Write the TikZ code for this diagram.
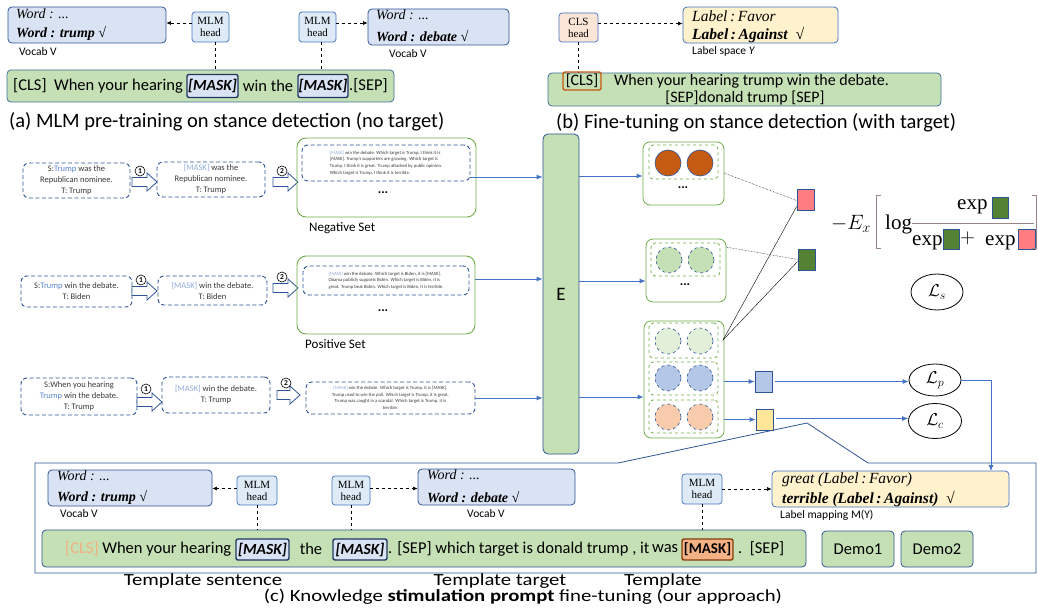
\documentclass[tikz,border=0pt]{standalone}
\usepackage{fontspec}
\setmainfont{Carlito}
\newfontfamily\cambria{Liberation Serif}
\usetikzlibrary{arrows.meta,shapes.geometric,calc}
\definecolor{bdr}{HTML}{2F5597}
\definecolor{bmid}{HTML}{4472C4}
\definecolor{sentd}{HTML}{41719C}
\definecolor{vocabf}{HTML}{DAE3F3}
\definecolor{headf}{HTML}{DEEBF7}
\definecolor{sentf}{HTML}{C5E0B4}
\definecolor{labf}{HTML}{FFF2CC}
\definecolor{clsf}{HTML}{FBE5D6}
\definecolor{grn}{HTML}{70AD47}
\definecolor{orng}{HTML}{C55A11}
\definecolor{palegrn}{HTML}{E2F0D9}
\definecolor{lblue}{HTML}{B4C7E7}
\definecolor{peach}{HTML}{F8CBAD}
\definecolor{redsq}{HTML}{FF7C80}
\definecolor{grnsq}{HTML}{548235}
\definecolor{ylw}{HTML}{FFE699}
\definecolor{maskt}{HTML}{8FAADC}
\definecolor{trumpc}{HTML}{5B87D0}
\definecolor{txt}{HTML}{3A3A3A}
\definecolor{brk}{HTML}{9C8585}
\definecolor{mask3f}{HTML}{F4B183}
\definecolor{mask3d}{HTML}{843C0C}
\definecolor{maskd}{HTML}{1F3864}
\definecolor{clsc}{HTML}{F4B183}
\newcommand\fsz[2]{\fontsize{#1}{#2}\selectfont}
\newcommand\wide[1]{\scalebox{1.22}[1]{#1}}
\newcommand\blkarrow[3]{\draw[blockarr] (#1,#2) ++(0,-4.5) -- ++(#3-10,0) -- ++(0,-4.5) -- ++(10,9) -- ++(-10,9) -- ++(0,-4.5) -- ++(10-#3,0) -- cycle;}
\begin{document}
\begin{tikzpicture}[x=1pt,y=-1pt,
  sz/.style 2 args={minimum width=#1, minimum height=#2},
  box/.style={rounded corners=4pt, line width=0.8pt, inner sep=0pt},
  vocab/.style={box, draw=bdr, fill=vocabf},
  head/.style={rounded corners=3pt, draw=bmid, fill=headf, line width=0.7pt, align=center, font=\cambria\fsz{11}{12}, inner sep=0pt},
  sent/.style={box, draw=sentd, fill=sentf},
  maskb/.style={rounded corners=2pt, draw=maskd, line width=1.4pt, fill=vocabf, font=\bfseries\itshape\fsz{15.5}{15.5}, inner sep=0pt},
  mtxt/.style={inner sep=1pt, font=\cambria\itshape\fsz{14}{14}},
  mbold/.style={inner sep=1pt, font=\cambria\bfseries\itshape\fsz{14}{14}},
  ltxt/.style={inner sep=1pt, font=\cambria\itshape\fsz{15.5}{15.5}},
  lbold/.style={inner sep=1pt, font=\cambria\bfseries\itshape\fsz{15.5}{15.5}},
  small/.style={inner sep=1pt, font=\fsz{11.5}{11.5}},
  sentfont/.style={inner sep=1pt, font=\fsz{16.5}{19}},
  capfont/.style={inner sep=1pt, font=\fsz{20.5}{20.5}},
  capc/.style={inner sep=1pt, font=\fsz{17}{17}, anchor=base},
  dasharr/.style={dashed, line width=0.6pt, -{Latex[length=4.5pt,width=4pt]}},
  dashln/.style={dashed, line width=0.6pt},
  dbox/.style={draw=bdr, dash pattern=on 4pt off 2.5pt, rounded corners=6pt, line width=0.9pt, align=center, font=\fsz{8.5}{11}, text=txt, inner sep=0pt},
  setbox/.style={draw=grn, rounded corners=9pt, line width=0.9pt, inner sep=0pt},
  ibox/.style={draw=bdr, dash pattern=on 4pt off 2.5pt, rounded corners=6pt, line width=0.9pt, font=\fsz{4.7}{6.6}, text=txt, inner sep=0pt},
  blockarr/.style={draw=bdr, fill=white, line width=0.8pt},
  circnum/.style={circle, draw=black, line width=0.6pt, minimum size=10pt, inner sep=0pt, font=\fsz{7.5}{7.5}\bfseries},
  barrow/.style={draw=bmid, line width=0.8pt, -{Latex[length=6pt,width=5pt]}},
  gbox/.style={draw=grn, rounded corners=7pt, line width=0.8pt, inner sep=0pt},
  gin/.style={draw=grn, dashed, rounded corners=4pt, line width=0.8pt, inner sep=0pt},
  dot/.style={circle, minimum size=26pt, inner sep=0pt, draw=bdr, line width=0.6pt},
  ddot/.style={dot, dashed},
  sq/.style={draw=bdr, line width=0.8pt, inner sep=0pt, sz={17}{21}},
  loss/.style={ellipse, draw=black, line width=0.8pt, inner sep=0pt, font=\fsz{18}{18}},
  fml/.style={inner sep=0pt, font=\cambria\fsz{21}{21}},
  dots/.style={inner sep=0pt, font=\fsz{13}{13}\bfseries}
]
\fill[white] (0,0) rectangle (1038,615);
\useasboundingbox (0,0) rectangle (1038,615);

% ===== (a) =====
\node[vocab, sz={158}{36}] (vA1) at (87,25) {};
\node[anchor=west, mtxt] (vA1t) at (15,14) {Word : ...};
\node[anchor=west, mbold] (vA1b) at (15,33) {Word : trump √};
\node[anchor=west, small] (vA1l) at (18,52) {Vocab V};
\node[head, sz={37}{30}] (hA1) at (210.5,27) {MLM\\head};
\node[head, sz={37}{30}] (hA2) at (317.5,27) {MLM\\head};
\node[vocab, sz={141}{36}] (vA2) at (438.5,27) {};
\node[anchor=west, mtxt] (vA2t) at (375,15) {Word : ...};
\node[anchor=west, mbold] (vA2b) at (375,36) {Word : debate √};
\node[anchor=west, small] (vA2l) at (388,54) {Vocab V};
\node[sent, sz={387}{32}] (sA) at (200.5,86) {};
\node[anchor=west, sentfont] (sAt1) at (12,86) {[CLS]\ \ When your hearing};
\node[maskb, sz={51}{23}] (mA1) at (212.5,86) {[MASK]};
\node[sentfont] (sAt2) at (268,86) {win the};
\node[maskb, sz={50}{23}] (mA2) at (323,86) {[MASK]};
\node[anchor=west, sentfont] (sAt3) at (348,86) {.[SEP]};
\draw[dasharr] ([yshift=4pt]hA1.west) -- ([yshift=4pt]hA1.west -| vA1.east);
\draw[dasharr] ([yshift=4pt]hA2.east) -- ([yshift=4pt]hA2.east -| vA2.west);
\draw[dashln] ([xshift=5pt]hA1.south) -- ([xshift=5pt]hA1.south |- sA.north);
\draw[dashln] ([xshift=4pt]hA2.south) -- ([xshift=4pt]hA2.south |- sA.north);
\node[anchor=west, capfont] (capA) at (8,122) {(a) MLM pre-training on stance detection (no target)};

% ===== (b) =====
\node[head, fill=clsf, sz={39}{29}] (hB) at (578.5,27.5) {CLS\\head};
\node[box, draw=bmid, fill=labf, sz={155}{36}] (lB) at (760.5,25) {};
\node[anchor=west, ltxt] (lBt) at (691,16) {Label\,:\,Favor};
\node[anchor=west, lbold] (lBb) at (691,35) {Label\,:\,Against\ \ √};
\node[anchor=west, small] (lBl) at (691,51) {Label space \textit{Y}};
\draw[dasharr] ([yshift=4pt]hB.east) -- ([yshift=4pt]hB.east -| lB.west);
\node[sent, sz={393}{33}] (sB) at (744.5,89.5) {};
\draw[dashln] (hB.south) -- (hB.south |- sB.north);
\node[rounded corners=2pt, draw=orng, line width=1.4pt, sz={38}{18}, inner sep=0pt, font=\fsz{16}{16}] (cB) at (582,81) {[CLS]};
\node[anchor=west, sentfont, font=\fsz{16}{19}] (sBt1) at (613,81) {When your hearing trump win the debate.};
\node[sentfont, font=\fsz{16}{19}] (sBt2) at (745,98) {[SEP]donald trump [SEP]};
\node[anchor=west, capfont] (capB) at (555,123) {(b) Fine-tuning on stance detection (with target)};

% ===== E =====
\node[box, draw=bdr, fill=sentf, sz={36}{320}, rounded corners=5pt, font=\fsz{19}{19}] (E) at (561,294) {E};

% ===== row 1 =====
\node[dbox, sz={107}{35}] (r1a) at (76.5,180.5) {S:\textcolor{trumpc}{Trump} was the\\Republican nominee.\\T: Trump};
\node[dbox, sz={108}{35}] (r1b) at (211,179.5) {\textcolor{maskt}{[MASK]} was the\\Republican nominee.\\T: Trump};
\blkarrow{132}{182}{25}
\node[circnum] (c11) at (140,171) {1};
\blkarrow{273}{182}{25}
\node[circnum] (c12) at (282,171) {2};
\node[setbox, sz={179}{79}] (neg) at (386.5,177.5) {};
\node[ibox, sz={168}{36}, align=left] (negi) at (386,163) {\textcolor{maskt}{[MASK]} win the debate. Which target is Trump, I think it is\\{}[MASK]. Trump's supporters are growing. Which target is\\Trump, I think it is great. Trump attacked by public opinion.\\Which target is Trump, I think it is terrible.};
\node[dots] (negd) at (383,193) {...};
\node[anchor=west, inner sep=1pt, font=\fsz{13}{13}] (negl) at (308,228) {Negative Set};
\coordinate (a1) at (470,177);
\draw[barrow] (a1) -- (a1 -| E.west);

% ===== row 2 =====
\node[dbox, sz={111}{31}] (r2a) at (76.5,291.5) {S:\textcolor{trumpc}{Trump} win the debate.\\T: Biden};
\node[dbox, sz={109}{29}] (r2b) at (212.5,290.5) {\textcolor{maskt}{[MASK]} win the debate.\\T: Biden};
\blkarrow{132}{291}{25}
\node[circnum] (c21) at (141,280) {1};
\blkarrow{273}{288}{25}
\node[circnum] (c22) at (282,277) {2};
\node[setbox, sz={178}{78}] (pos) at (386,295) {};
\node[ibox, sz={166}{29}, align=left] (posi) at (386,280.5) {\textcolor{maskt}{[MASK]} win the debate. Which target is Biden, it is [MASK].\\Obama publicly supports Biden. Which target is Biden, it is\\great. Trump beat Biden. Which target is Biden, it is terrible.};
\node[dots] (posd) at (383,311) {...};
\node[anchor=west, inner sep=1pt, font=\fsz{13}{13}] (posl) at (304,344) {Positive Set};
\coordinate (a2) at (475,279);
\draw[barrow] (a2) -- (a2 -| E.west);

% ===== row 3 =====
\node[dbox, sz={116}{37}] (r3a) at (79,396.5) {S:When you hearing\\\textcolor{trumpc}{Trump} win the debate.\\T: Trump};
\node[dbox, sz={108}{36}] (r3b) at (216,395) {\textcolor{maskt}{[MASK]} win the debate.\\T: Trump};
\blkarrow{137}{402}{25}
\node[circnum] (c31) at (146,389) {1};
\blkarrow{277}{395}{23}
\node[circnum] (c32) at (286,383) {2};
\node[ibox, sz={169}{32}, align=center] (r3c) at (390.5,398) {\textcolor{maskt}{[MASK]} win the debate. Which target is Trump, it is [MASK].\\Trump used to win the poll. Which target is Trump, it is great.\\Trump was caught in a scandal. Which target is Trump, it is\\terrible.};
\coordinate (a3) at (475,398);
\draw[barrow] (a3) -- (a3 -| E.west);

% ===== groups =====
\node[gbox, sz={81}{63}] (G1) at (683.5,173.5) {};
\node[gin, sz={69}{34}] (G1i) at (683.5,162) {};
\node[dot, fill=orng] (g1a) at (668,163) {};
\node[dot, fill=orng] (g1b) at (700,163) {};
\node[dots] (g1d) at (683,188) {...};
\node[gbox, sz={80}{63}] (G2) at (686,270.5) {};
\node[gin, sz={69}{33}] (G2i) at (685.5,259.5) {};
\node[ddot, fill=sentf] (g2a) at (669,260) {};
\node[ddot, fill=sentf] (g2b) at (701,260) {};
\node[dots] (g2d) at (685,285) {...};
\node[gbox, sz={80}{117}] (G3) at (684,379.5) {};
\node[gin, sz={69}{35}] (G3a) at (683.5,340.5) {};
\node[gin, sz={69}{33}] (G3b) at (683.5,378.5) {};
\node[gin, sz={69}{33}] (G3c) at (683.5,416.5) {};
\node[ddot, fill=palegrn] (g3a1) at (668,341) {};
\node[ddot, fill=palegrn] (g3a2) at (700,341) {};
\node[ddot, fill=lblue] (g3b1) at (668,378) {};
\node[ddot, fill=lblue] (g3b2) at (700,378) {};
\node[ddot, fill=peach] (g3c1) at (668,417) {};
\node[ddot, fill=peach] (g3c2) at (700,417) {};
\draw[barrow] (E.east |- 0,176) -- (G1.west |- 0,176);
\draw[barrow] (E.east |- 0,281) -- (G2.west |- 0,281);
\draw[barrow] (E.east |- 0,397) -- (G3.west |- 0,397);

% ===== callout outline =====
\draw[draw=bdr, line width=0.8pt] (35,463) -- (618,463) -- (807,423) -- (868,463) -- (1036,463) -- (1036,573) -- (35,573) -- cycle;

% ===== squares =====
\node[sq, fill=redsq] (sqR) at (805.5,199.5) {};
\node[sq, fill=grnsq] (sqG) at (806.5,259.5) {};
\node[sq, fill=lblue] (sqB) at (763.5,381.5) {};
\node[sq, fill=ylw] (sqY) at (764.5,419.5) {};
\coordinate (t1) at (724,173);
\coordinate (t2) at (726,247);
\coordinate (t3) at (723,340);
\draw[densely dotted, line width=0.5pt] (t1) -- ([yshift=-1pt]sqR.west);
\draw[densely dotted, line width=0.5pt] (t2) -- (sqG.west);
\draw[line width=0.4pt] (t3) -- ([yshift=-7pt]sqR.west);
\draw[line width=0.4pt] (t3) -- ([yshift=-2pt]sqG.west);
\draw[barrow] (G3.east |- sqB) -- (sqB.west);
\draw[barrow] (G3.east |- sqY) -- (sqY.west);

% ===== losses =====
\node[loss, sz={52}{32}] (Lp) at (935,380) {$\mathcal{L}_p$};
\node[loss, sz={53}{35}] (Lc) at (935,421) {$\mathcal{L}_c$};
\node[loss, sz={52}{36}] (Ls) at (937,292) {$\mathcal{L}_s$};
\draw[barrow] ([xshift=3pt]sqB.east) -- (sqB.east -| Lp.west);
\draw[barrow] ([xshift=3pt,yshift=1pt]sqY.east) -- ([yshift=1pt]sqY.east -| Lc.west);

% ===== formula =====
\node[fml, anchor=base west] (fE) at (831,229) {$-E_x$};
\draw[brk, line width=1pt] (881,195) -- (876,195) -- (876,248) -- (881,248);
\node[fml, anchor=base west] (flog) at (885,229) {log};
\draw[brk, line width=0.9pt] (912,223) -- (1034,223);
\node[fml, anchor=base west] (fn) at (957,209) {exp};
\node[sq, fill=grnsq, sz={16}{21}] (fsq1) at (1000,207.5) {};
\node[fml, anchor=base west] (fd1) at (912,245) {exp};
\node[sq, fill=grnsq, sz={16}{20}] (fsq2) at (951,239) {};
\node[fml] (fplus) at (967.5,238) {$+$};
\node[fml, anchor=base west] (fd2) at (985,245) {exp};
\node[sq, fill=redsq, sz={17}{20}] (fsq3) at (1026.5,239) {};
\draw[brk, line width=1pt] (1032,195) -- (1036.5,195) -- (1036.5,248) -- (1032,248);

% ===== (c) =====
\node[vocab, sz={164}{36}] (vC1) at (130,488) {};
\node[anchor=west, mtxt] (vC1t) at (56,476) {Word : ...};
\node[anchor=west, mbold] (vC1b) at (56,497) {Word : trump √};
\node[anchor=west, small] (vC1l) at (59,514) {Vocab V};
\node[head, sz={40}{29}] (hC1) at (257,490.5) {MLM\\head};
\node[head, sz={38}{29}] (hC2) at (351,490.5) {MLM\\head};
\node[vocab, sz={157}{36}] (vC2) at (496.5,487) {};
\node[anchor=west, mtxt] (vC2t) at (426,475) {Word : ...};
\node[anchor=west, mbold] (vC2b) at (426,497) {Word : debate √};
\node[anchor=west, small] (vC2l) at (466,514) {Vocab V};
\node[head, sz={40}{30}] (hC3) at (702,489) {MLM\\head};
\node[box, draw=bmid, fill=labf, sz={237}{36}] (lC) at (890.5,489) {};
\node[anchor=west, ltxt] (lCt) at (781,480) {great (Label\,:\,Favor)};
\node[anchor=west, lbold] (lCb) at (781,499) {terrible (Label\,:\,Against)\ \ √};
\node[anchor=west, small] (lCl) at (779,515) {Label mapping M(Y)};
\node[sent, draw=bdr, sz={764}{37}] (sC) at (424,548.5) {};
\node[anchor=west, sentfont] (sCt1) at (64,549) {\textcolor{clsc}{[CLS]} When your hearing};
\node[maskb, sz={53}{21}] (mC1) at (262.5,549.5) {[MASK]};
\node[sentfont] (sCt2) at (311,549) {the};
\node[maskb, sz={54}{21}] (mC2) at (360,549.5) {[MASK]};
\node[anchor=west, sentfont] (sCt3) at (387,549) {. [SEP] which target is donald trump , it};
\node[anchor=west, sentfont] (sCt3b) at (651,549) {was};
\node[rounded corners=2pt, draw=mask3d, line width=1.4pt, fill=mask3f, sz={51}{21}, inner sep=0pt, font=\bfseries\fsz{15}{15}] (mC3) at (707.5,549.5) {[MASK]};
\node[anchor=west, sentfont] (sCt4) at (737,549) {.\ \ [SEP]};
\node[sent, draw=bdr, sz={72}{36}, font=\fsz{16.5}{16.5}] (dm1) at (858,549) {Demo1};
\node[sent, draw=bdr, sz={72}{36}, font=\fsz{16.5}{16.5}] (dm2) at (937,549) {Demo2};
\draw[dasharr] ([yshift=2pt]hC1.west) -- ([yshift=2pt]hC1.west -| vC1.east);
\draw[dasharr] ([yshift=2pt]hC2.east) -- ([yshift=2pt]hC2.east -| vC2.west);
\draw[dasharr] (hC3.east) -- (hC3.east -| lC.west);
\draw[dashln] (hC1.south) -- (hC1.south |- sC.north);
\draw[dashln] (hC2.south) -- (hC2.south |- sC.north);
\draw[dashln] (hC3.south) -- (hC3.south |- sC.north);
\coordinate (lpt) at (991,471);
\draw[barrow] (Lp.east) -| (lpt);
\node[capc] (capT1) at (203,585) {\wide{Template sentence}};
\node[capc] (capT2) at (500,585) {\wide{Template target}};
\node[capc] (capT3) at (663,585) {\wide{Template}};
\node[capc] (capC) at (523,601) {\wide{(c) Knowledge \textbf{stimulation prompt} fine-tuning (our approach)}};
\end{tikzpicture}
\end{document}
